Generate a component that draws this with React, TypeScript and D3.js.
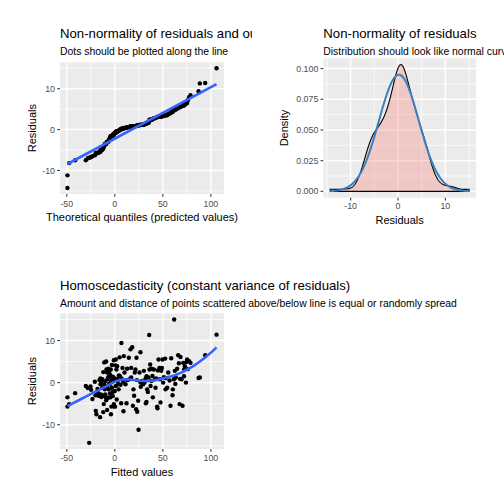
import React from 'react';
import * as d3 from 'd3';

// Paired model output: fitted values and residuals
const fittedValues = [
  -49.3, -49.3, -47.6, -41.3, -30.2, -28.1, -26.7, -25.3, -24.7, -23.3,
  -20.8, -20.1, -19.8, -19.1, -17.7, -17.0, -16.0, -15.3, -14.9, -14.6,
  -13.9, -13.2, -12.5, -11.5, -10.4, -9.4, -8.7, -8.0, -7.6, -6.9,
  -6.3, -5.9, -5.2, -4.5, -4.2, -3.5, -2.8, -2.1, -1.0, -0.7,
  0.3, 0.7, 1.7, 2.4, 2.8, 3.5, 4.2, 5.2, 6.6, 6.9,
  8.0, 8.7, 9.4, 10.1, 11.1, 12.2, 12.8, 14.6, 15.3, 16.3,
  17.0, 18.1, 18.8, 19.4, 20.1, 20.8, 21.5, 22.2, 22.6, 23.3,
  24.3, 24.7, 25.7, 26.7, 26.7, 28.1, 29.5, 30.2, 30.9, 31.9,
  32.3, 33.0, 33.7, 34.4, 35.1, 35.8, 36.1, 36.8, 37.2, 38.2,
  39.2, 39.6, 40.6, 41.7, 42.4, 44.1, 44.4, 44.8, 45.5, 46.5,
  47.6, 48.3, 49.0, 49.7, 50.3, 51.0, 52.4, 52.8, 54.5, 55.6,
  58.0, 58.7, 60.1, 60.4, 61.5, 61.8, 62.5, 63.5, 64.9, 66.0,
  66.7, 67.4, 68.4, 69.4, 70.5, 71.2, 72.2, 72.9, 74.0, 74.7,
  75.3, 77.4, 78.8, 87.2, 88.5, 94.1, 105.9,
  -18, -16, -15, -14, -13, -12, -12, -11, -11, -10,
  -10, -9, -9, -8, -8, -7, -7, -6, -6, -5,
  -5, -4, -4, -3, -3, -2, -2, -1, -1, 0,
  0, 1, 1, 2, 3, 4, 5, 6, 7, 9,
  13, 17, 23, 27, 33, 38, 43, 47, 53, 57,
  63, 68, 72, 76,
];
const residuals = [
  -3.5, -5.7, -5.1, -2.5, -0.8, -1.3, -14.3, -0.9, -1.7, -3.9,
  0.2, -3.0, -6.7, -7.5, -2.4, -3.1, 0.6, -8.2, -0.4, -2.8,
  0.2, -1.2, -3.1, -5.1, -1.6, -3.5, 3.1, 2.4, 0.8, 3.3,
  -1.6, 1.6, -0.4, -3.5, 3.1, -5.7, 0.8, -2.2, -5.1, -5.7,
  -5.7, 4.1, 3.1, 3.9, 0.8, -0.4, 1.7, 1.6, -4.9, 9.4,
  3.5, 0.2, 6.3, 2.4, -0.4, -4.9, 3.3, 5.9, 0.8, 7.9,
  3.5, 8.4, -5.5, -1.6, -3.1, 2.4, 3.1, -6.3, 5.9, -6.9,
  -4.3, -11.2, 2.4, 7.2, 0.0, 0.4, -0.4, 2.8, 0.0, 0.9,
  -4.9, -4.6, -1.6, -2.2, 1.2, 11.3, 3.1, 4.3, -0.8, 3.3,
  1.6, -3.5, 3.1, 0.8, -1.2, -5.7, -6.1, 2.9, 5.5, 3.5,
  -4.7, 2.8, 3.5, 5.5, 0.0, 1.3, 5.7, -1.6, -1.2, 2.4,
  -5.5, 5.8, -3.0, -1.6, 0.8, 15.0, 2.8, 1.2, 3.3, 6.5,
  4.6, -5.1, 6.1, 0.8, -5.5, 4.7, 3.1, 3.9, 0.0, 4.9,
  5.5, 5.1, 4.7, 1.1, 1.2, 6.5, 11.4,
  -1.5, -3.0, 1.0, -3.4, 0.8, -7.0, 2.5, -0.5, 4.8, -2.8,
  0.3, 5.0, -4.2, -0.9, -6.5, 1.2, -3.6, 2.6, -0.3, -2.6,
  1.9, 0.2, -7.5, 4.2, -1.2, 1.4, -3.2, 0.5, 5.3, -2.0,
  1.0, -0.8, 5.5, -4.0, 0.4, -1.6, 6.0, -0.5, 1.0, -6.8,
  0.6, 1.2, 0.6, -1.0, 1.5, 0.4, 1.0, 0.8, 1.1, 0.5,
  -0.3, 0.9, 1.5, 3.2,
];

const xBreaksFit = [-50, 0, 50, 100];
const xMinorFit = [-25, 25, 75];
const yBreaksRes = [-10, 0, 10];
const yMinorRes = [-15, -5, 5, 15];
const xBreaksDens = [-10, 0, 10];
const xMinorDens = [-15, -5, 5, 15];
const yBreaksDens = [0, 0.025, 0.05, 0.075, 0.1];
const yMinorDens = [0.0125, 0.0375, 0.0625, 0.0875];

const FONT = '"Liberation Sans", Arial, Helvetica, sans-serif';
const BG = '#EBEBEB';
const SMOOTH = '#3366FF';
const NORMAL = '#3A7FC0';

function expand(ext: [number, number], mult = 0.05): [number, number] {
  const r = ext[1] - ext[0];
  return [ext[0] - r * mult, ext[1] + r * mult];
}

function loess(xs: number[], ys: number[], evalX: number[], span = 0.75) {
  const n = xs.length;
  const q = Math.floor(n * span);
  return evalX.map((x0) => {
    const d = xs.map((x) => Math.abs(x - x0));
    const sorted = [...d].sort((a, b) => a - b);
    const h = sorted[q - 1] * 1.0000001;
    let S0 = 0, S1 = 0, S2 = 0, S3 = 0, S4 = 0, T0 = 0, T1 = 0, T2 = 0;
    for (let i = 0; i < n; i++) {
      const r = d[i] / h;
      if (r >= 1) continue;
      const w = Math.pow(1 - r * r * r, 3);
      const u = xs[i] - x0;
      const u2 = u * u;
      S0 += w; S1 += w * u; S2 += w * u2; S3 += w * u2 * u; S4 += w * u2 * u2;
      T0 += w * ys[i]; T1 += w * u * ys[i]; T2 += w * u2 * ys[i];
    }
    const A = [[S0, S1, S2, T0], [S1, S2, S3, T1], [S2, S3, S4, T2]];
    for (let c = 0; c < 3; c++) {
      let p = c;
      for (let r = c + 1; r < 3; r++) if (Math.abs(A[r][c]) > Math.abs(A[p][c])) p = r;
      [A[c], A[p]] = [A[p], A[c]];
      for (let r = 0; r < 3; r++) {
        if (r === c) continue;
        const f = A[r][c] / A[c][c];
        for (let k = c; k < 4; k++) A[r][k] -= f * A[c][k];
      }
    }
    return A[0][3] / A[0][0];
  });
}

type PanelProps = {
  left: number; top: number; right: number; bottom: number;
  x: d3.ScaleLinear<number, number>; y: d3.ScaleLinear<number, number>;
  xBreaks: number[]; xMinor: number[]; yBreaks: number[]; yMinor: number[];
  yFmt?: (v: number) => string;
  title: string; titleY: number; subtitle: string; subtitleY: number;
  xTitle: string; xTitleY: number; yTitle: string; yTitleX: number;
  xTickY: number; clipRight?: number; id: string;
  children?: React.ReactNode;
};

function Panel(p: PanelProps) {
  const fmt = p.yFmt || ((v: number) => String(v));
  const midY = (p.top + p.bottom) / 2;
  const midX = (p.left + p.right) / 2;
  return (
    <g>
      <defs>
        <clipPath id={`clip-${p.id}`}>
          <rect x={p.left} y={p.top} width={p.right - p.left} height={p.bottom - p.top} />
        </clipPath>
        {p.clipRight !== undefined && (
          <clipPath id={`tclip-${p.id}`}>
            <rect x={0} y={0} width={p.clipRight} height={504} />
          </clipPath>
        )}
      </defs>
      <rect x={p.left} y={p.top} width={p.right - p.left} height={p.bottom - p.top} fill={BG} />
      <g clipPath={`url(#clip-${p.id})`}>
        {p.xMinor.map((v) => (
          <line key={'xm' + v} x1={p.x(v)} x2={p.x(v)} y1={p.top} y2={p.bottom} stroke="#fff" strokeWidth={0.71} />
        ))}
        {p.yMinor.map((v) => (
          <line key={'ym' + v} y1={p.y(v)} y2={p.y(v)} x1={p.left} x2={p.right} stroke="#fff" strokeWidth={0.71} />
        ))}
        {p.xBreaks.map((v) => (
          <line key={'xM' + v} x1={p.x(v)} x2={p.x(v)} y1={p.top} y2={p.bottom} stroke="#fff" strokeWidth={1.42} />
        ))}
        {p.yBreaks.map((v) => (
          <line key={'yM' + v} y1={p.y(v)} y2={p.y(v)} x1={p.left} x2={p.right} stroke="#fff" strokeWidth={1.42} />
        ))}
        {p.children}
      </g>
      {p.xBreaks.map((v) => (
        <g key={'xt' + v}>
          <line x1={p.x(v)} x2={p.x(v)} y1={p.bottom} y2={p.bottom + 2.75} stroke="#333" strokeWidth={1.07} />
          <text x={p.x(v)} y={p.xTickY} textAnchor="middle" fontSize={8.8} fill="#4D4D4D" fontFamily={FONT}>{String(v)}</text>
        </g>
      ))}
      {p.yBreaks.map((v) => (
        <g key={'yt' + v}>
          <line x1={p.left - 2.75} x2={p.left} y1={p.y(v)} y2={p.y(v)} stroke="#333" strokeWidth={1.07} />
          <text x={p.left - 5} y={p.y(v) + 3.1} textAnchor="end" fontSize={8.8} fill="#4D4D4D" fontFamily={FONT}>{fmt(v)}</text>
        </g>
      ))}
      <text x={midX} y={p.xTitleY} textAnchor="middle" fontSize={11} fill="#000" fontFamily={FONT}>{p.xTitle}</text>
      <text transform={`translate(${p.yTitleX},${midY}) rotate(-90)`} textAnchor="middle" dy="0.35em" fontSize={11} fill="#000" fontFamily={FONT}>{p.yTitle}</text>
      <g clipPath={p.clipRight !== undefined ? `url(#tclip-${p.id})` : undefined}>
        <text x={p.left} y={p.titleY} fontSize={13.2} fill="#000" fontFamily={FONT}>{p.title}</text>
        <text x={p.left} y={p.subtitleY} fontSize={10.4} fill="#000" fontFamily={FONT}>{p.subtitle}</text>
      </g>
    </g>
  );
}

export default function App() {
  const n = residuals.length;
  const fitExt = d3.extent(fittedValues) as [number, number];
  const resExt = d3.extent(residuals) as [number, number];

  // ---------- QQ panel ----------
  const qqX = [...fittedValues].sort((a, b) => a - b);
  const qqY = [...residuals].sort((a, b) => a - b);
  const mx = d3.mean(qqX)!, my = d3.mean(qqY)!;
  let sxy = 0, sxx = 0;
  for (let i = 0; i < n; i++) { sxy += (qqX[i] - mx) * (qqY[i] - my); sxx += (qqX[i] - mx) ** 2; }
  const slope = sxy / sxx, intercept = my - slope * mx;

  const qq = { left: 60, top: 62.3, right: 224, bottom: 194 };
  const qxS = d3.scaleLinear().domain(expand(fitExt)).range([qq.left, qq.right]);
  const qyS = d3.scaleLinear().domain(expand(resExt)).range([qq.bottom, qq.top]);

  // ---------- Density panel ----------
  const sd = d3.deviation(residuals)!;
  const mean = d3.mean(residuals)!;
  const iqr = d3.quantile(residuals, 0.75)! - d3.quantile(residuals, 0.25)!;
  const bw = 0.9 * Math.min(sd, iqr / 1.34) * Math.pow(n, -0.2);
  const kdeX = d3.range(512).map((i) => resExt[0] + (i * (resExt[1] - resExt[0])) / 511);
  const kde = kdeX.map((x) => {
    let s = 0;
    for (const r of residuals) { const z = (x - r) / bw; s += Math.exp(-0.5 * z * z); }
    return [x, s / (n * bw * Math.sqrt(2 * Math.PI))] as [number, number];
  });
  const normX = d3.range(101).map((i) => resExt[0] + (i * (resExt[1] - resExt[0])) / 100);
  const norm = normX.map((x) => [x, Math.exp(-0.5 * ((x - mean) / sd) ** 2) / (sd * Math.sqrt(2 * Math.PI))] as [number, number]);
  const dMax = Math.max(d3.max(kde, (d) => d[1])!, d3.max(norm, (d) => d[1])!);

  const de = { left: 323.3, top: 58.3, right: 476, bottom: 197.7 };
  const dxS = d3.scaleLinear().domain(expand(resExt)).range([de.left, de.right]);
  const dyS = d3.scaleLinear().domain(expand([0, dMax])).range([de.bottom, de.top]);
  const area = d3.area<[number, number]>().x((d) => dxS(d[0])).y0(dyS(0)).y1((d) => dyS(d[1]));
  const kdeLine = d3.line<[number, number]>().x((d) => dxS(d[0])).y((d) => dyS(d[1]));
  const outline = kdeLine([[kde[0][0], 0], ...kde, [kde[kde.length - 1][0], 0]]) + 'Z';

  // ---------- Scatter panel ----------
  const sc = { left: 60, top: 313.3, right: 224, bottom: 449 };
  const sxS = d3.scaleLinear().domain(expand(fitExt)).range([sc.left, sc.right]);
  const syS = d3.scaleLinear().domain(expand(resExt)).range([sc.bottom, sc.top]);
  const loX = d3.range(80).map((i) => fitExt[0] + (i * (fitExt[1] - fitExt[0])) / 79);
  const loY = loess(fittedValues, residuals, loX);
  const loLine = d3.line<number>().x((_, i) => sxS(loX[i])).y((d) => syS(d));

  return (
    <svg width={504} height={504} style={{ position: 'absolute', left: 0, top: 0, background: '#fff' }}>
      <rect width={504} height={504} fill="#fff" />
      <Panel id="qq" {...qq} x={qxS} y={qyS} xBreaks={xBreaksFit} xMinor={xMinorFit} yBreaks={yBreaksRes} yMinor={yMinorRes}
        title="Non-normality of residuals and outliers" titleY={38} subtitle="Dots should be plotted along the line" subtitleY={54.5}
        xTitle="Theoretical quantiles (predicted values)" xTitleY={220.5} yTitle="Residuals" yTitleX={31.7} xTickY={206.5} clipRight={252}>
        {qqX.map((x, i) => (
          <circle key={i} cx={qxS(x)} cy={qyS(qqY[i])} r={2.2} fill="#000" />
        ))}
        <line x1={qxS(fitExt[0])} y1={qyS(intercept + slope * fitExt[0])} x2={qxS(fitExt[1])} y2={qyS(intercept + slope * fitExt[1])}
          stroke={SMOOTH} strokeWidth={2.6} />
      </Panel>
      <Panel id="de" {...de} x={dxS} y={dyS} xBreaks={xBreaksDens} xMinor={xMinorDens} yBreaks={yBreaksDens} yMinor={yMinorDens}
        yFmt={d3.format('.3f')}
        title="Non-normality of residuals" titleY={38} subtitle="Distribution should look like normal curve" subtitleY={54.5}
        xTitle="Residuals" xTitleY={224} yTitle="Density" yTitleX={284} xTickY={208.7}>
        <path d={area(kde)!} fill="#F8766D" fillOpacity={0.3} />
        <path d={outline} fill="none" stroke="#000" strokeWidth={1.1} />
        <path d={kdeLine(norm)!} fill="none" stroke={NORMAL} strokeWidth={2} />
      </Panel>
      <Panel id="sc" {...sc} x={sxS} y={syS} xBreaks={xBreaksFit} xMinor={xMinorFit} yBreaks={yBreaksRes} yMinor={yMinorRes}
        title="Homoscedasticity (constant variance of residuals)" titleY={289.6}
        subtitle="Amount and distance of points scattered above/below line is equal or randomly spread" subtitleY={306.8}
        xTitle="Fitted values" xTitleY={475.5} yTitle="Residuals" yTitleX={31.7} xTickY={461.3}>
        {fittedValues.map((x, i) => (
          <circle key={i} cx={sxS(x)} cy={syS(residuals[i])} r={2.2} fill="#000" />
        ))}
        <path d={loLine(loY)!} fill="none" stroke={SMOOTH} strokeWidth={2.6} />
      </Panel>
    </svg>
  );
}
